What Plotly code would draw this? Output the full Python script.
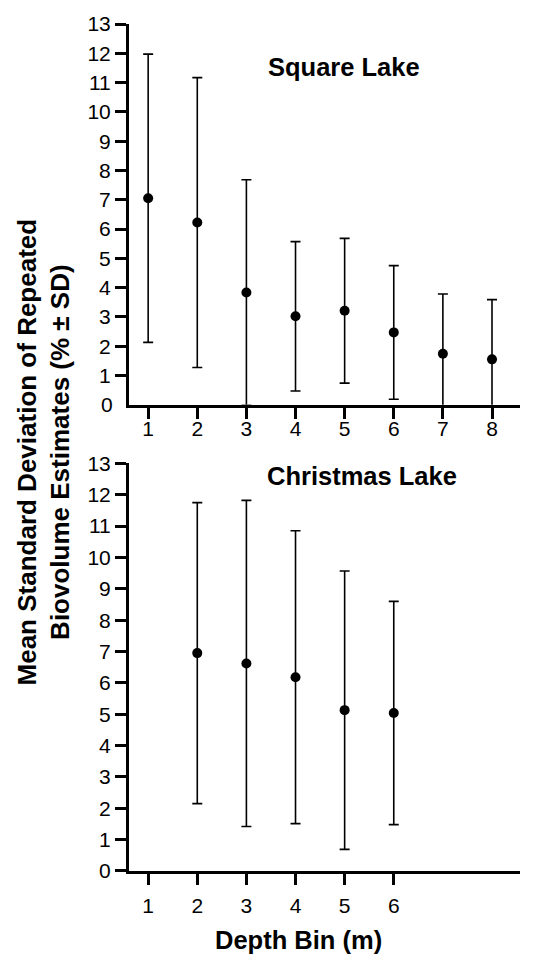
import plotly.graph_objects as go

# ---- data ----
square_depth = [1, 2, 3, 4, 5, 6, 7, 8]
square_mean = [7.05, 6.22, 3.83, 3.02, 3.21, 2.47, 1.74, 1.55]
square_sd = [4.92, 4.95, 3.85, 2.55, 2.47, 2.28, 2.04, 2.04]

christmas_depth = [2, 3, 4, 5, 6]
christmas_mean = [6.95, 6.62, 6.18, 5.13, 5.04]
christmas_sd = [4.80, 5.20, 4.67, 4.44, 3.56]

square_xticks = [1, 2, 3, 4, 5, 6, 7, 8]
christmas_xticks = [1, 2, 3, 4, 5, 6]
y_ticks = list(range(0, 14))

FONT = "Arial, Liberation Sans, sans-serif"
TICK_SIZE = 21
W, H = 535, 955
ML, MR, MT, MB = 129, 15, 19, 84
PH = H - MT - MB
PW = W - ML - MR


def py(px):
    return (H - MB - px) / PH


def pxx(px):
    return (px - ML) / PW


fig = go.Figure()

err_style = dict(type="data", visible=True, color="black", thickness=1.6, width=5)
fig.add_trace(go.Scatter(
    x=square_depth, y=square_mean, mode="markers",
    marker=dict(color="black", size=10),
    error_y=dict(array=square_sd, **err_style),
    xaxis="x2", yaxis="y2", showlegend=False, cliponaxis=True,
))
fig.add_trace(go.Scatter(
    x=christmas_depth, y=christmas_mean, mode="markers",
    marker=dict(color="black", size=10),
    error_y=dict(array=christmas_sd, **err_style),
    xaxis="x", yaxis="y", showlegend=False, cliponaxis=True,
))
# empty trace so the label-only overlay axis of the top panel is drawn
fig.add_trace(go.Scatter(x=[], y=[], xaxis="x3", yaxis="y2",
                         showlegend=False, hoverinfo="skip"))

tickfont = dict(family=FONT, size=TICK_SIZE, color="black")
axis_common = dict(
    showline=True, linecolor="black", linewidth=3, mirror=False,
    ticks="outside", ticklen=11, tickwidth=3, tickcolor="black",
    showgrid=False, zeroline=False, tickfont=tickfont,
)
x_range = [0.61, 8.57]
top_dom = [py(402), 1.0]
bot_dom = [0.0, py(461)]

fig.update_layout(
    width=W, height=H,
    margin=dict(l=ML, r=MR, t=MT, b=MB),
    paper_bgcolor="white", plot_bgcolor="white",
    xaxis=dict(domain=[0, 1], range=x_range, anchor="y",
               tickmode="array", tickvals=christmas_xticks,
               ticklabelstandoff=3, **axis_common),
    yaxis=dict(domain=bot_dom, range=[0, 13], anchor="x",
               tickmode="array", tickvals=y_ticks, **axis_common),
    xaxis2=dict(domain=[0, 1], range=x_range, anchor="y2",
                tickmode="array", tickvals=square_xticks,
                showticklabels=False, **axis_common),
    # label-only overlay for the top panel's x-axis (labels sit closer to the ticks)
    xaxis3=dict(overlaying="x2", range=x_range, anchor="y2", side="bottom",
                tickmode="array", tickvals=square_xticks,
                showline=False, showgrid=False, zeroline=False,
                ticks="outside", ticklen=5, tickcolor="rgba(0,0,0,0)",
                tickfont=tickfont),
    yaxis2=dict(domain=top_dom, range=[0, 13], anchor="x2",
                tickmode="array", tickvals=y_ticks[1:], **axis_common),
)

title_font = dict(family=FONT, size=25.5, color="black")
annotations = [
    dict(text="<b>Square Lake</b>", x=pxx(344), y=py(62), xref="paper", yref="paper",
         xanchor="center", yanchor="middle", showarrow=False, font=title_font),
    dict(text="<b>Christmas Lake</b>", x=pxx(361.5), y=py(474), xref="paper", yref="paper",
         xanchor="center", yanchor="middle", showarrow=False, font=title_font),
    dict(text="<b>Depth Bin (m)</b>", x=pxx(298.5), y=py(940), xref="paper", yref="paper",
         xanchor="center", yanchor="middle", showarrow=False, font=title_font),
    dict(text="<b>Mean Standard Deviation of Repeated<br>Biovolume Estimates (% ± SD)</b>",
         x=pxx(44), y=py(450), xref="paper", yref="paper", textangle=-90,
         xanchor="center", yanchor="middle", showarrow=False,
         font=dict(family=FONT, size=26, color="black")),
    dict(text="0", x=0, y=0, xref="paper", yref="y2", xanchor="right", yanchor="middle",
         xshift=-14, showarrow=False, font=tickfont),
]
fig.update_layout(annotations=annotations)

fig.write_html("out.html", config={"displayModeBar": False},
               post_script="document.body.style.margin='0';document.body.style.padding='0';")
